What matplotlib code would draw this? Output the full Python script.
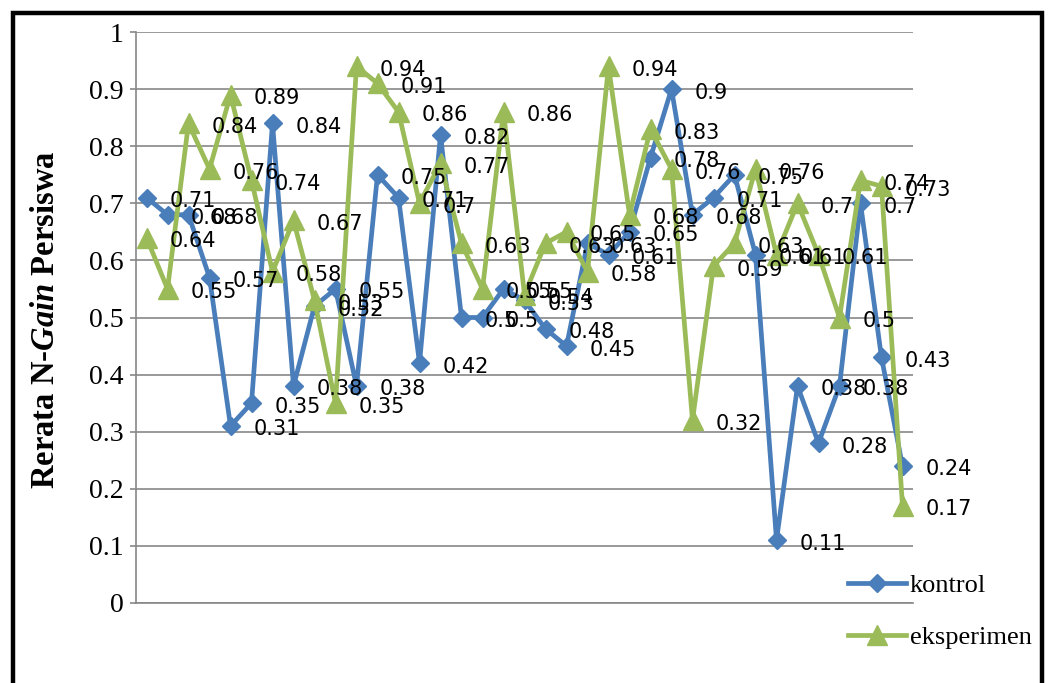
import matplotlib
matplotlib.use("Agg")
import matplotlib.pyplot as plt
from matplotlib.patches import Rectangle

plt.rcParams["mathtext.fontset"] = "custom"
plt.rcParams["mathtext.rm"] = "Liberation Serif"
plt.rcParams["mathtext.bf"] = "Liberation Serif:bold"
plt.rcParams["mathtext.it"] = "Liberation Serif:italic"
plt.rcParams["mathtext.bfit"] = "Liberation Serif:italic:bold"

# ---- data ----
kontrol = [0.71, 0.68, 0.68, 0.57, 0.31, 0.35, 0.84, 0.38, 0.52, 0.55,
           0.38, 0.75, 0.71, 0.42, 0.82, 0.5, 0.5, 0.55, 0.53, 0.48,
           0.45, 0.63, 0.61, 0.65, 0.78, 0.9, 0.68, 0.71, 0.75, 0.61,
           0.11, 0.38, 0.28, 0.38, 0.7, 0.43, 0.24]
eksperimen = [0.64, 0.55, 0.84, 0.76, 0.89, 0.74, 0.58, 0.67, 0.53, 0.35,
              0.94, 0.91, 0.86, 0.7, 0.77, 0.63, 0.55, 0.86, 0.54, 0.63,
              0.65, 0.58, 0.94, 0.68, 0.83, 0.76, 0.32, 0.59, 0.63, 0.76,
              0.61, 0.7, 0.61, 0.5, 0.74, 0.73, 0.17]
series_names = ["kontrol", "eksperimen"]
y_ticks = [0, 0.1, 0.2, 0.3, 0.4, 0.5, 0.6, 0.7, 0.8, 0.9, 1]
y_tick_labels = ["0", "0.1", "0.2", "0.3", "0.4", "0.5", "0.6", "0.7", "0.8", "0.9", "1"]

BLUE = "#4A7EBB"
GREEN = "#9BBB59"
GRID = "#878787"

W, H = 1048, 683
fig = plt.figure(figsize=(W / 100, H / 100), dpi=100)
fig.patch.set_facecolor("white")

ax = fig.add_axes([136 / W, 1 - 603 / H, 777 / W, 571 / H])
x = list(range(len(kontrol)))

ax.plot(x, kontrol, color=BLUE, lw=3.4, marker="D", markersize=9.5,
        markerfacecolor=BLUE, markeredgecolor=BLUE, label=series_names[0], zorder=3)
ax.plot(x, eksperimen, color=GREEN, lw=3.4, marker="^", markersize=14,
        markerfacecolor=GREEN, markeredgecolor=GREEN, label=series_names[1], zorder=4)

def fmt(v):
    return ("%.2f" % v).rstrip("0").rstrip(".")

for series in (kontrol, eksperimen):
    for xi, v in zip(x, series):
        ax.annotate(fmt(v), (xi, v), xytext=(17, -2.5), textcoords="offset points",
                    ha="left", va="center", fontsize=15, family="DejaVu Sans",
                    color="black", zorder=6, annotation_clip=False)

ax.set_xlim(-0.5, len(kontrol) - 0.5)
ax.set_ylim(0, 1)
ax.set_yticks(y_ticks)
ax.set_yticklabels(y_tick_labels, family="Liberation Serif", fontsize=20)
ax.set_xticks([])
ax.yaxis.grid(True, color=GRID, lw=1.2)
ax.set_axisbelow(True)
for side in ["top", "right"]:
    ax.spines[side].set_visible(False)
for side in ["left", "bottom"]:
    ax.spines[side].set_color(GRID)
    ax.spines[side].set_linewidth(1.2)
ax.tick_params(axis="y", length=4, width=1.2, color=GRID, pad=5)

# y label with italic "Gain"
fig.text(46 / W, 1 - 320 / H, r"Rerata N-$\mathbfit{Gain}$ Persiswa", rotation=90,
         ha="center", va="center", fontsize=23.5, family="Liberation Serif",
         fontweight="bold")

leg = fig.legend(loc="center left", bbox_to_anchor=(848 / W, 1 - 611.5 / H),
                 frameon=False, borderpad=0, borderaxespad=0,
                 handlelength=2.2, handletextpad=0.15, labelspacing=1.1,
                 prop={"family": "Liberation Serif", "size": 19})

# outer black frame (bottom runs off the image)
fig.patches.append(Rectangle((13 / W, -0.05), (1042 - 13) / W, (1 - 13 / H) + 0.05,
                             transform=fig.transFigure, fill=False,
                             edgecolor="black", lw=3.2, zorder=10))

fig.savefig("out.png", dpi=100, facecolor="white")
